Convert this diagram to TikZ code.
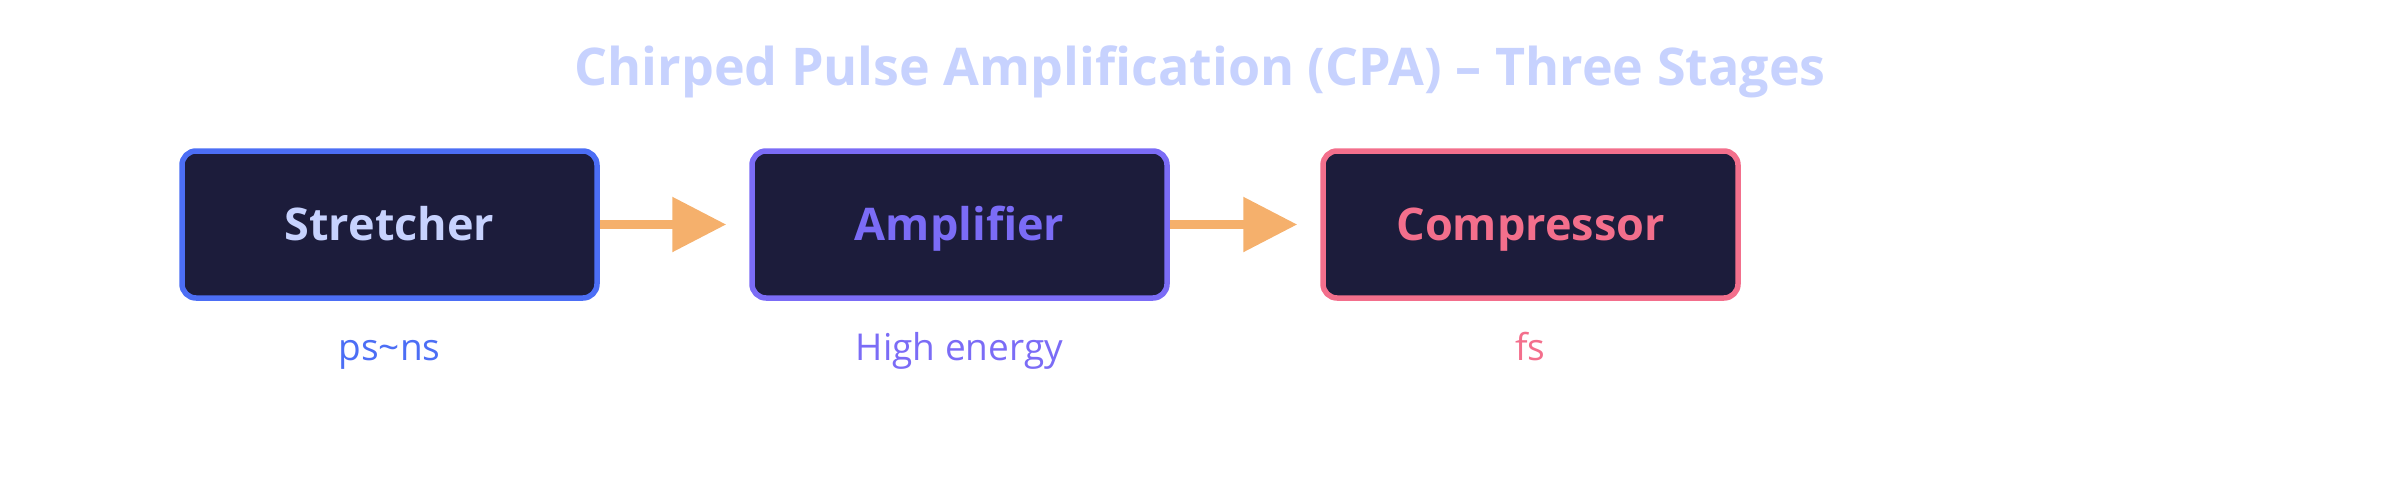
\documentclass[tikz,border=0pt]{standalone}
\usepackage{fontspec}
\setmainfont{Open Sans}
\usetikzlibrary{arrows.meta}

\definecolor{titlecol}{HTML}{C7D2FE}
\definecolor{boxfill}{HTML}{1C1C3B}
\definecolor{stretchcol}{HTML}{4C6EF5}
\definecolor{ampcol}{HTML}{7B6CF6}
\definecolor{compcol}{HTML}{F36F8C}
\definecolor{flowcol}{HTML}{F5B06C}

\begin{document}
\begin{tikzpicture}[x=1pt, y=-1pt,
  stage/.style={draw, fill=boxfill, line width=5.5pt, rounded corners=14pt,
    minimum width=415pt, minimum height=147pt, inner sep=0pt,
    font=\fontsize{45}{54}\selectfont\bfseries, text height=34pt, text depth=3pt},
  tag/.style={font=\fontsize{37}{44}\selectfont, anchor=base, inner sep=0pt},
  flow/.style={draw=flowcol, line width=9pt, -{Triangle[length=54pt, width=53pt]}, shorten >=23pt}]
  \useasboundingbox (0,0) rectangle (2400,480);

  \node[font=\fontsize{52}{62}\selectfont\bfseries, text=titlecol, anchor=base, inner sep=0pt] (title) at (1200,85)
    {Chirped Pulse Amplification (CPA) -- Three Stages};

  % the three stages
  \node[stage, draw=stretchcol, text=titlecol] (str) at (389.5,224.5) {Stretcher};
  \node[stage, draw=ampcol, text=ampcol] (amp) at (959.5,224.5) {Amplifier};
  \node[stage, draw=compcol, text=compcol] (comp) at (1530.5,224.5) {Compressor};

  \draw[flow] (str) -- (amp);
  \draw[flow] (amp) -- (comp);

  % pulse duration / energy under each box
  \node[tag, text=stretchcol] (strtag) at (389.5,360) {ps\textasciitilde ns};
  \node[tag, text=ampcol] (amptag) at (959.5,360) {High energy};
  \node[tag, text=compcol] (comptag) at (1530.5,360) {fs};
\end{tikzpicture}
\end{document}
